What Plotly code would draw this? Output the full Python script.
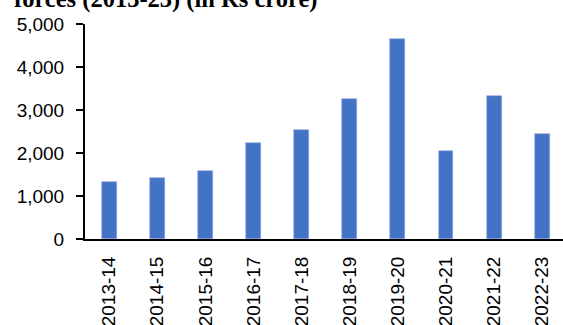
import plotly.graph_objects as go

# Annual amounts, Rs crore
years = ["2013-14", "2014-15", "2015-16", "2016-17", "2017-18",
         "2018-19", "2019-20", "2020-21", "2021-22", "2022-23"]
amounts = [1333, 1426, 1574, 2225, 2543, 3256, 4644, 2047, 3318, 2434]

y_ticks = [0, 1000, 2000, 3000, 4000, 5000]
y_tick_text = ["0", "1,000", "2,000", "3,000", "4,000", "5,000"]

title_text = "forces (2013-23) (in Rs crore)"

sans = "Liberation Sans, Arial, sans-serif"
label_size = 19

fig = go.Figure(
    go.Bar(
        x=years,
        y=amounts,
        width=0.31,
        marker=dict(color="#4472C4", line=dict(color="#8FAADC", width=0.6)),
    )
)

fig.update_layout(
    width=563,
    height=325,
    margin=dict(l=85, r=0, t=24, b=86, pad=0, autoexpand=False),
    paper_bgcolor="white",
    plot_bgcolor="white",
    showlegend=False,
    font=dict(family=sans, size=label_size, color="black"),
    bargap=0,
)

fig.update_xaxes(
    type="category",
    range=[-0.5, 9.43],
    automargin=False,
    showline=True,
    linecolor="black",
    linewidth=2,
    showgrid=False,
    ticks="",
    tickangle=-90,
    ticklabelstandoff=8,
    tickfont=dict(family=sans, size=label_size, color="black"),
)

fig.update_yaxes(
    range=[0, 5000],
    automargin=False,
    tickvals=y_ticks,
    ticktext=y_tick_text,
    showline=True,
    linecolor="black",
    linewidth=2,
    showgrid=False,
    zeroline=False,
    ticks="outside",
    ticklen=7,
    tickwidth=2,
    tickcolor="black",
    ticklabelstandoff=8,
    tickfont=dict(family=sans, size=label_size, color="black"),
)

fig.add_annotation(
    text="<b>" + title_text + "</b>",
    xref="paper",
    yref="paper",
    x=-0.153,
    y=1.042,
    xanchor="left",
    yanchor="bottom",
    showarrow=False,
    font=dict(family="Liberation Serif, Times New Roman, serif", size=24.5, color="black"),
)

fig.write_html("out.html")
